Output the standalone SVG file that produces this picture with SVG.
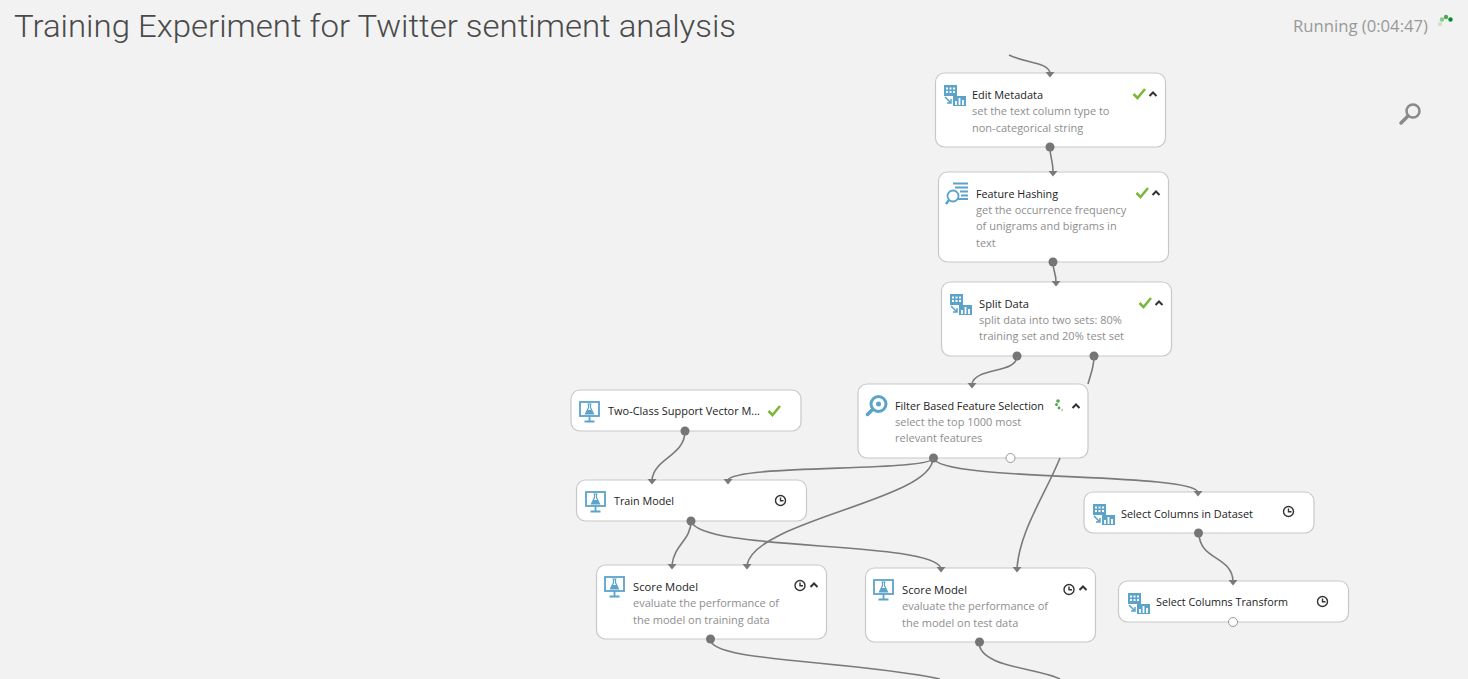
<svg xmlns="http://www.w3.org/2000/svg" width="1468" height="679" viewBox="0 0 1468 679">
<style>
text{font-family:"Open Sans","Noto Sans","Liberation Sans",sans-serif}
.card{fill:#fff;stroke:#c8c8c8;stroke-width:1.2}
.t{font-size:11.5px;fill:#222}
.d{font-size:11px;fill:#8e8e8e}
.c{fill:none;stroke:#7a7a7a;stroke-width:1.6}
.a{fill:#7a7a7a}
.p{fill:#757575}
.o{fill:#fff;stroke:#999;stroke-width:1}
.ok{fill:none;stroke:#7ab93c;stroke-width:2.600}
.ch{fill:none;stroke:#333;stroke-width:2}
.clk{fill:none;stroke:#333;stroke-width:1.400}
.ic{fill:none;stroke:#5ba3c9;stroke-width:1.800}
.if{fill:#5ba3c9}
</style>
<defs>
<g id="ok"><path class="ok" d="M0.500 6L4.500 10L12 1"/></g>
<g id="up"><path class="ch" d="M0.500 5L4 1.500L7.500 5"/></g>
<g id="clock"><circle class="clk" cx="5.500" cy="5.500" r="5"/><path class="clk" d="M5.500 2.500V5.800H8.500"/></g>
<g id="ds"><rect class="if" x="0" y="0" width="13" height="11"/><path d="M2 3.500h2M5.500 3.500h2M9 3.500h2M2 7h2M5.500 7h2M9 7h2" stroke="#fff" stroke-width="2"/><path d="M1 12L7 18M7 14V18H3" fill="none" stroke="#5ba3c9" stroke-width="1.500"/><rect class="if" x="9" y="11" width="13" height="10"/><path d="M12 20V16M15.500 20V13M19 20V15" stroke="#fff" stroke-width="1.800"/></g>
<g id="sc"><rect class="ic" x="1" y="1" width="19" height="14"/><path d="M8.500 3H12.500M9.500 3V6.500L6.500 13H14.500L11.500 6.500V3" fill="none" stroke="#5ba3c9" stroke-width="1.200"/><path class="if" d="M8.500 9H12.500L14.500 13H6.500Z"/><path class="ic" d="M10.500 15V20M5.500 20.500H15.500"/></g>
<path id="head" class="a" d="M-4.500 0H4.500L0 5.500Z"/>
</defs>
<rect width="1468" height="679" fill="#f2f2f2"/>
<text x="14" y="37" font-size="32" font-weight="300" fill="#4a4a4a" style="font-family:Roboto,'Open Sans',sans-serif" textLength="722" lengthAdjust="spacingAndGlyphs">Training Experiment for Twitter sentiment analysis</text>
<text x="1293" y="32" font-size="16" fill="#999" textLength="135" lengthAdjust="spacingAndGlyphs">Running (0:04:47)</text>
<g id="spinner"><circle cx="1440" cy="24" r="2" fill="#c4e2c4"/><circle cx="1442" cy="19.500" r="2.200" fill="#8cc98c"/><circle cx="1446" cy="17" r="2.200" fill="#4fa84f"/><circle cx="1450.500" cy="19.500" r="2.200" fill="#0a8a2a"/></g>
<g id="search"><circle cx="1413" cy="111" r="6.500" fill="none" stroke="#8a8a8a" stroke-width="2.500"/><path d="M1408 116L1401 123" stroke="#8a8a8a" stroke-width="3.500" stroke-linecap="round"/></g>

<g id="edit-metadata"><rect class="card" x="935.500" y="73" width="230" height="74" rx="9"/><use href="#ds" x="944" y="85"/><text class="t" x="972" y="99" textLength="71" lengthAdjust="spacingAndGlyphs">Edit Metadata</text><text class="d" x="972" y="115">set the text column type to</text><text class="d" x="972" y="132">non-categorical string</text><use href="#ok" x="1133" y="88"/><use href="#up" x="1149" y="91"/><circle class="p" cx="1050" cy="147" r="4.500"/></g>
<g id="feature-hashing"><rect class="card" x="938.500" y="172" width="230" height="90" rx="9"/><path class="ic" d="M953 183.500H968M955 187.500H968M960 191.500H968M961 195.500H968M958 199H968" stroke-width="1.400"/><circle class="ic" cx="953" cy="196" r="5.500"/><path d="M949 200L946 204" stroke="#5ba3c9" stroke-width="2.500"/><text class="t" x="976" y="198" textLength="82" lengthAdjust="spacingAndGlyphs">Feature Hashing</text><text class="d" x="976" y="214">get the occurrence frequency</text><text class="d" x="976" y="230">of unigrams and bigrams in</text><text class="d" x="976" y="247">text</text><use href="#ok" x="1136" y="187"/><use href="#up" x="1152" y="190"/><circle class="p" cx="1053" cy="262" r="4.500"/></g>
<g id="split-data"><rect class="card" x="941.500" y="282" width="230" height="74" rx="9"/><use href="#ds" x="950" y="294"/><text class="t" x="979" y="308" textLength="50" lengthAdjust="spacingAndGlyphs">Split Data</text><text class="d" x="979" y="324">split data into two sets: 80%</text><text class="d" x="979" y="340">training set and 20% test set</text><use href="#ok" x="1139" y="297"/><use href="#up" x="1155" y="300"/><circle class="p" cx="1017" cy="356" r="4.500"/><circle class="p" cx="1094" cy="356" r="4.500"/></g>
<g id="filter-selection"><rect class="card" x="858" y="384" width="230" height="74" rx="9"/><circle cx="878.500" cy="404" r="7.500" fill="none" stroke="#5ba3c9" stroke-width="3"/><circle class="if" cx="878.500" cy="404" r="2.500"/><path d="M872 410L867.500 414.500" stroke="#5ba3c9" stroke-width="3.500" stroke-linecap="round"/><text class="t" x="895" y="410" textLength="149" lengthAdjust="spacingAndGlyphs">Filter Based Feature Selection</text><text class="d" x="895" y="426">select the top 1000 most</text><text class="d" x="895" y="442">relevant features</text><g fill="#4fa84f"><circle cx="1058" cy="401" r="1.800"/><circle cx="1056.500" cy="404.500" r="1.500"/><circle cx="1059" cy="408" r="1.400"/></g><circle cx="1062" cy="410" r="1.200" fill="#b7dcb7"/><use href="#up" x="1072" y="403"/><circle class="p" cx="933.500" cy="458" r="4.500"/><circle class="o" cx="1010.500" cy="458" r="4.500"/></g>
<g id="two-class-svm"><rect class="card" x="571" y="390" width="230" height="41" rx="9"/><use href="#sc" x="579" y="401"/><text class="t" x="608" y="415" textLength="152" lengthAdjust="spacingAndGlyphs">Two-Class Support Vector M...</text><use href="#ok" x="768" y="405"/><circle class="p" cx="685" cy="431" r="4.500"/></g>
<g id="train-model"><rect class="card" x="576.500" y="480" width="230" height="41" rx="9"/><use href="#sc" x="585" y="491"/><text class="t" x="614" y="505" textLength="60" lengthAdjust="spacingAndGlyphs">Train Model</text><use href="#clock" x="775" y="495"/><circle class="p" cx="691" cy="521" r="4.500"/></g>
<g id="select-columns"><rect class="card" x="1084" y="492" width="230" height="41" rx="9"/><use href="#ds" x="1093" y="504"/><text class="t" x="1121" y="518" textLength="132" lengthAdjust="spacingAndGlyphs">Select Columns in Dataset</text><use href="#clock" x="1283" y="506"/><circle class="p" cx="1198.500" cy="533" r="4.500"/></g>
<g id="score-model-train"><rect class="card" x="596.500" y="565" width="230" height="74" rx="9"/><use href="#sc" x="604" y="576"/><text class="t" x="633" y="591" textLength="65" lengthAdjust="spacingAndGlyphs">Score Model</text><text class="d" x="633" y="607">evaluate the performance of</text><text class="d" x="633" y="624">the model on training data</text><use href="#clock" x="794.500" y="580"/><use href="#up" x="810" y="582"/><circle class="p" cx="710.500" cy="639" r="4.500"/></g>
<g id="score-model-test"><rect class="card" x="865.500" y="568" width="230" height="74" rx="9"/><use href="#sc" x="873" y="579"/><text class="t" x="902" y="594" textLength="65" lengthAdjust="spacingAndGlyphs">Score Model</text><text class="d" x="902" y="610">evaluate the performance of</text><text class="d" x="902" y="627">the model on test data</text><use href="#clock" x="1063.500" y="584"/><use href="#up" x="1079" y="585"/><circle class="p" cx="979.500" cy="642" r="4.500"/></g>
<g id="select-transform"><rect class="card" x="1118.500" y="581" width="230" height="41" rx="9"/><use href="#ds" x="1128" y="593"/><text class="t" x="1156" y="606" textLength="132" lengthAdjust="spacingAndGlyphs">Select Columns Transform</text><use href="#clock" x="1317" y="596"/><circle class="o" cx="1233" cy="622" r="4.500"/></g>

<g id="connectors">
<path class="c" d="M1009 55C1025 63 1048 62 1050 73"/>
<path class="c" d="M1050 147C1050 158 1053 160 1053 172"/>
<path class="c" d="M1053 262C1053 272 1056 272 1056 282"/>
<path class="c" d="M1017 356C1017 374 975 367 972 384"/>
<path class="c" d="M1094 356C1094 368 1090 376 1088 384"/>
<path class="c" d="M1060 458C1045 495 1020 530 1017 568"/>
<path class="c" d="M685 431C685 456 654 458 652 480"/>
<path class="c" d="M933 458C933 472 735 464 728 480"/>
<path class="c" d="M933 458C933 500 755 520 747 565"/>
<path class="c" d="M933 458C940 482 1190 472 1198 492"/>
<path class="c" d="M691 521C691 540 674 545 672 565"/>
<path class="c" d="M691 521C700 552 930 540 941 568"/>
<path class="c" d="M1199 533C1199 560 1232 556 1233 581"/>
<path class="c" d="M710 639C710 662 850 660 940 679"/>
<path class="c" d="M979 642C979 668 1040 668 1060 679"/>
<use href="#head" x="1050" y="72"/><use href="#head" x="1053" y="171"/><use href="#head" x="1056" y="281"/><use href="#head" x="972" y="383"/><use href="#head" x="652" y="479"/><use href="#head" x="728" y="479"/><use href="#head" x="672" y="564"/><use href="#head" x="747" y="564"/><use href="#head" x="941" y="567"/><use href="#head" x="1017" y="567"/><use href="#head" x="1198" y="491"/><use href="#head" x="1233" y="580"/>
</g>
</svg>
